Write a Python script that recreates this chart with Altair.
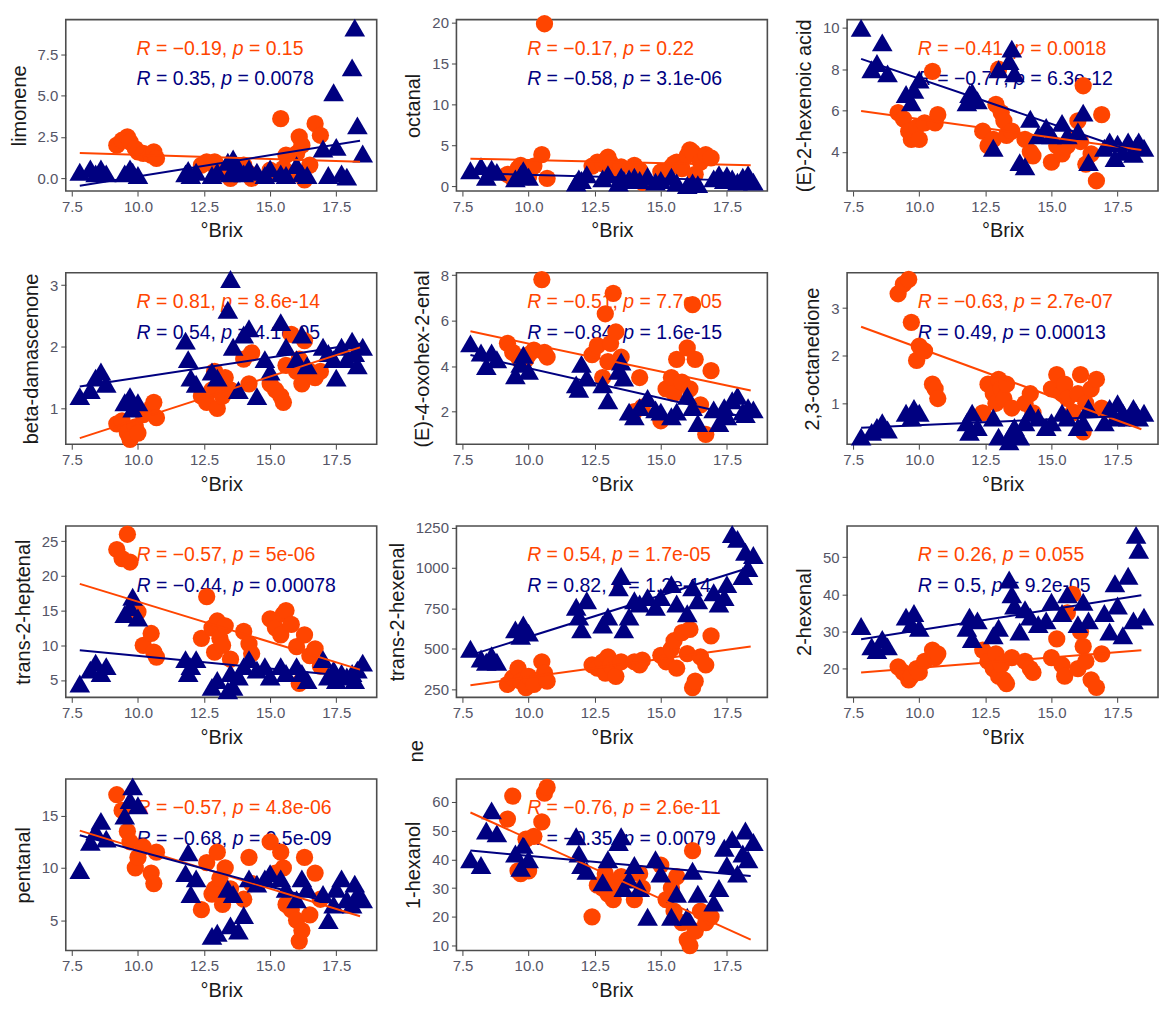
import altair as alt
import pandas as pd

ORANGE = "#FF4500"
NAVY = "#000080"
FONT = "Liberation Sans"

# Brix of the samples (shared by all panels)
brix_orange = [9.2, 9.4, 9.6, 9.7, 9.9, 10.0, 10.2, 10.5, 10.6, 10.7,
               12.4, 12.6, 12.8, 12.9, 13.0, 13.1, 13.2, 13.3, 13.5,
               14.0, 14.2, 14.3,
               15.0, 15.2, 15.4, 15.5, 15.6, 15.8, 16.0, 16.1, 16.2, 16.3, 16.5, 16.7, 16.9]
brix_blue = [7.8, 8.2, 8.4, 8.6, 8.8, 9.5, 9.7, 9.8, 10.0,
             11.8, 11.9, 12.0, 12.2, 12.8, 13.0, 13.4, 13.5, 13.6, 13.8, 14.0, 14.2, 14.5,
             14.8, 15.0, 15.4, 15.6, 16.0, 16.2, 16.4,
             17.0, 17.2, 17.4, 17.5, 17.7, 17.9, 18.1, 18.2, 18.3, 18.5]

limonene_orange = [2.0, 2.3, 2.5, 2.2, 1.8, 1.6, 1.5, 1.4, 1.6, 1.2,
                   0.8, 1.0, 0.9, 1.0, 0.4, 0.6, 0.3, 0.5, 0.0,
                   0.8, 0.3, 0.0,
                   0.5, 0.3, 3.6, 0.6, 1.4, 0.3, 1.5, 2.5, 2.0, -0.1, 0.8, 3.3, 2.6]
limonene_blue = [0.4, 0.6, 0.3, 0.6, 0.3, 0.3, 0.6, 0.4, 0.2,
                 0.3, 0.5, 0.2, 0.4, 0.2, 0.4, 1.0, 0.3, 1.2, 0.5, 0.3, 0.6, 0.4,
                 0.2, 0.6, 0.3, 0.2, 0.8, 0.3, 0.2,
                 1.8, 0.2, 5.2, 1.9, 0.3, 0.1, 6.7, 9.1, 3.2, 1.5]

octanal_orange = [1.5, 1.0, 2.2, 2.6, 2.0, 1.2, 2.5, 3.9, 19.9, 1.0,
                  2.5, 3.0, 2.8, 3.2, 3.6, 2.9, 2.2, 1.5, 2.4,
                  2.6, 2.0, 0.5,
                  1.8, 1.2, 2.4, 2.8, 3.0, 2.2, 3.8, 4.5, 4.2, 1.5, 3.0, 3.9, 3.5]
octanal_blue = [2.0, 2.5, 1.2, 2.2, 1.8, 1.0, 1.5, 2.0, 1.2,
                0.5, 1.0, 0.8, 1.5, 1.0, 1.5, 0.5, 1.2, 0.8, 1.0, 1.2, 0.8, 1.3,
                0.6, 0.8, 1.2, 0.5, 0.2, 0.5, 0.3,
                1.0, 1.5, 0.8, 1.4, 1.0, 0.6, 1.2, 0.8, 1.5, 0.6]

hexenoic_orange = [5.9, 5.6, 5.0, 4.6, 5.2, 4.6, 5.4, 7.9, 5.4, 5.8,
                   5.0, 4.3, 4.6, 6.3, 8.0, 5.9, 5.5, 4.8, 5.0,
                   4.6, 4.0, 3.8,
                   3.5, 4.3, 3.9, 4.2, 4.3, 4.6, 5.5, 4.5, 7.2, 3.4, 3.9, 2.6, 5.8]
hexenoic_blue = [10.0, 8.0, 8.3, 9.3, 7.8, 6.8, 6.4, 7.0, 7.5,
                 6.4, 6.8, 6.9, 6.5, 4.2, 8.0, 8.4, 9.0, 7.8, 3.5, 3.3, 5.6, 4.8,
                 5.2, 4.8, 5.4, 4.8, 5.0, 5.9, 3.5,
                 4.2, 4.5, 3.7, 4.4, 4.0, 4.5, 3.9, 4.3, 4.5, 4.2]

damascenone_orange = [0.75, 0.8, 0.6, 0.5, 0.7, 0.6, 0.9, 1.0, 1.1, 0.85,
                      1.2, 1.1, 1.3, 1.6, 1.0, 1.4, 1.2, 1.5, 1.3,
                      1.8, 1.4, 1.9,
                      1.4, 1.3, 1.2, 1.1, 1.7, 2.2, 1.6, 1.8, 1.4, 2.1, 1.6, 1.5, 1.6]
damascenone_blue = [1.2, 1.3, 1.5, 1.6, 1.4, 1.1, 1.2, 1.0, 1.1,
                    2.1, 1.8, 1.5, 1.4, 1.6, 1.5, 2.6, 3.1, 2.0, 1.3, 2.2, 2.3, 1.2,
                    1.8, 1.6, 2.4, 2.0, 1.8, 2.2, 1.7,
                    2.0, 1.9, 1.8, 1.5, 2.0, 1.8, 2.1, 1.9, 1.7, 2.0]

oxohexenal_orange = [5.0, 4.6, 4.4, 4.2, 4.3, 4.5, 4.7, 7.8, 4.6, 4.4,
                     4.5, 4.9, 3.5, 6.3, 4.2, 5.0, 7.2, 5.5, 4.4,
                     2.0, 3.5, 2.2,
                     1.6, 3.0, 3.5, 2.8, 4.3, 3.3, 4.8, 3.0, 6.7, 4.3, 2.3, 1.0, 3.8]
oxohexenal_blue = [5.0, 4.6, 4.0, 4.6, 4.3, 3.6, 4.1, 4.5, 3.8,
                   3.2, 3.0, 4.1, 3.5, 3.2, 2.5, 3.8, 4.2, 3.5, 2.0, 1.8, 2.2, 2.6,
                   2.1, 2.0, 1.8, 2.0, 2.7, 2.2, 1.5,
                   2.1, 1.5, 2.2, 1.8, 2.5, 2.7, 2.0, 1.9, 2.2, 2.1]

octanedione_orange = [3.3, 3.5, 3.6, 2.7, 1.9, 2.2, 2.1, 1.4, 1.3, 1.1,
                      0.8, 1.4, 1.2, 1.0, 1.5, 1.3, 1.1, 1.4, 0.9,
                      1.0, 1.2, 0.8,
                      1.3, 1.6, 1.2, 1.4, 1.1, 0.8, 1.2, 1.6, 0.4, 1.0, 1.3, 1.5, 0.9]
octanedione_blue = [0.3, 0.4, 0.5, 0.6, 0.45, 0.8, 0.7, 0.9, 0.8,
                    0.6, 0.4, 0.8, 0.5, 0.7, 0.3, 0.2, 0.4, 0.5, 0.3, 0.6, 0.8, 0.7,
                    0.5, 0.6, 0.8, 0.7, 0.5, 0.6, 0.9,
                    0.6, 0.9, 0.7, 1.0, 0.8, 0.7, 0.9, 0.8, 0.7, 0.8]

heptenal_orange = [23.8, 22.5, 26.0, 22.0, 14.5, 14.8, 10.0, 11.7, 9.0, 8.3,
                   11.0, 17.0, 12.5, 9.0, 13.5, 11.0, 10.0, 12.8, 8.0,
                   12.0, 10.2, 8.8,
                   13.8, 12.5, 11.5, 14.5, 15.0, 13.0, 9.8, 4.5, 5.0, 11.5, 8.5, 9.5, 7.0]
heptenal_blue = [4.5, 6.5, 7.5, 6.0, 7.0, 14.5, 15.5, 17.0, 14.0,
                 8.0, 6.0, 7.0, 8.0, 4.0, 5.0, 3.5, 6.0, 4.0, 5.5, 7.0, 8.0, 6.5,
                 7.0, 5.5, 7.0, 6.0, 7.0, 6.0, 5.0,
                 8.0, 5.5, 6.5, 5.0, 6.0, 5.5, 6.0, 5.0, 6.5, 7.5]

t2hexenal_orange = [280, 320, 380, 300, 260, 330, 280, 420, 350, 300,
                    400, 380, 420, 350, 450, 400, 370, 330, 420,
                    420, 400, 430,
                    460, 420, 500, 550, 380, 600, 470, 620, 260, 300, 450, 400, 580]
t2hexenal_blue = [500, 440, 420, 460, 420, 620, 580, 650, 600,
                  760, 700, 620, 800, 650, 700, 880, 950, 620, 700, 800, 780, 820,
                  760, 820, 900, 780, 720, 880, 800,
                  850, 780, 820, 900, 1210, 1180, 950, 1100, 1000, 1080]

hexenal2_orange = [20.5, 19, 17, 18, 20, 19, 22, 25, 23, 24,
                   25, 22, 20, 24, 18, 21, 17, 16, 23,
                   22, 20, 19,
                   23, 28, 21, 18, 35, 40, 20, 30, 26, 22, 17, 15, 24]
hexenal2_blue = [31.5, 26, 25, 28, 26, 34, 32, 35, 31,
                 31, 34, 28, 33, 29, 31, 44, 40, 37, 30, 36, 34, 32,
                 33, 38, 35, 40, 32, 38, 33,
                 35, 30, 43, 37, 29, 45, 33, 56, 52, 34]

pentanal_orange = [17.0, 15.5, 13.5, 12.5, 10.0, 11.0, 12.0, 9.5, 8.5, 11.5,
                   6.0, 10.5, 7.5, 8.0, 11.5, 9.0, 6.5, 10.0, 8.0,
                   7.0, 11.0, 8.5,
                   12.5, 9.5, 11.5, 10.0, 6.5, 6.0, 5.0, 3.0, 4.0, 11.0, 5.5, 9.5, 7.0]
pentanal_blue = [9.8, 12.5, 13.5, 14.5, 12.8, 15.0, 16.5, 17.8, 16.0,
                 9.5, 11.5, 7.5, 9.0, 3.5, 3.8, 8.0, 4.5, 7.5, 4.0, 5.5, 9.0, 8.5,
                 9.0, 9.5, 9.0, 8.0, 7.0, 9.0, 8.0,
                 7.5, 5.0, 6.5, 8.0, 9.0, 7.0, 6.5, 8.5, 7.5, 7.0]

hexanol_orange = [54, 62, 36, 35, 47, 36, 48, 53, 63, 65,
                  20, 31, 30, 35, 28, 32, 26, 30, 34,
                  26, 35, 30,
                  38, 26, 30, 22, 34, 18, 12, 10, 43, 15, 22, 18, 20]
hexanol_blue = [40, 38, 50, 57, 49, 42, 37, 45, 40,
                48, 42, 38, 36, 32, 40, 46, 48, 30, 33, 38, 30, 20,
                40, 35, 20, 28, 20, 36, 28,
                25, 30, 44, 38, 47, 35, 42, 50, 40, 46]

panel_titles = ["limonene", "octanal", "(E)-2-hexenoic acid",
                "beta-damascenone", "(E)-4-oxohex-2-enal", "2,3-octanedione",
                "trans-2-heptenal", "trans-2-hexenal", "2-hexenal",
                "pentanal", "1-hexanol"]
orange_series = [limonene_orange, octanal_orange, hexenoic_orange,
                 damascenone_orange, oxohexenal_orange, octanedione_orange,
                 heptenal_orange, t2hexenal_orange, hexenal2_orange,
                 pentanal_orange, hexanol_orange]
blue_series = [limonene_blue, octanal_blue, hexenoic_blue,
               damascenone_blue, oxohexenal_blue, octanedione_blue,
               heptenal_blue, t2hexenal_blue, hexenal2_blue,
               pentanal_blue, hexanol_blue]
y_domains = [[-0.77, 9.58], [-0.55, 20.4], [2.1, 10.4],
             [0.42, 3.2], [0.57, 8.1], [0.14, 3.74],
             [2.5, 27.2], [200, 1260], [12.3, 58.4],
             [2.1, 18.5], [8.3, 67.9]]
y_ticks = [[0, 2.5, 5, 7.5], [0, 5, 10, 15, 20], [4, 6, 8, 10],
           [1, 2, 3], [2, 4, 6, 8], [1, 2, 3],
           [5, 10, 15, 20, 25], [250, 500, 750, 1000, 1250], [20, 30, 40, 50],
           [5, 10, 15], [10, 20, 30, 40, 50, 60]]
y_formats = [".1f", "d", "d", "d", "d", "d", "d", "d", "d", "d", "d"]
labels_orange = ["R = −0.19, p = 0.15", "R = −0.17, p = 0.22", "R = −0.41, p = 0.0018",
                 "R = 0.81, p = 8.6e-14", "R = −0.51, p = 7.7e-05", "R = −0.63, p = 2.7e-07",
                 "R = −0.57, p = 5e-06", "R = 0.54, p = 1.7e-05", "R = 0.26, p = 0.055",
                 "R = −0.57, p = 4.8e-06", "R = −0.76, p = 2.6e-11"]
labels_blue = ["R = 0.35, p = 0.0078", "R = −0.58, p = 3.1e-06", "R = −0.77, p = 6.3e-12",
               "R = 0.54, p = 4.1e-05", "R = −0.84, p = 1.6e-15", "R = 0.49, p = 0.00013",
               "R = −0.44, p = 0.00078", "R = 0.82, p = 1.2e-14", "R = 0.5, p = 9.2e-05",
               "R = −0.68, p = 9.5e-09", "R = −0.35, p = 0.0079"]
stray_text = "ne"

W, H = 312, 172
FS = 19.5
CHAR_W = {" ": 278, "=": 584, "−": 584, ".": 278, ",": 278, "e": 556, "-": 333,
          "R": 722, "p": 556}


def tw(s):
    return sum(CHAR_W.get(c, 556) for c in s) * FS / 1000.0


def label_layers(label, color, ypix, x0=71):
    # label "R = a, p = b" : R and p italic
    rest = label[len("R = "):]
    rval, pval = rest.split(", p = ")
    pieces = [("R", True, 0.0),
              ("= " + rval + ",", False, tw("R ")),
              ("p", True, tw("R = " + rval + ", ")),
              ("= " + pval, False, tw("R = " + rval + ", p "))]
    out = []
    for txt, ital, off in pieces:
        out.append(
            alt.Chart(pd.DataFrame({"t": [txt]}))
            .mark_text(align="left", baseline="middle", font=FONT, fontSize=FS,
                       fontStyle="italic" if ital else "normal", color=color)
            .encode(text="t:N", x=alt.value(x0 + off), y=alt.value(ypix))
        )
    return out


def panel(i):
    yo = orange_series[i]
    yb = blue_series[i]
    df = pd.DataFrame({
        "brix": brix_orange + brix_blue,
        "value": yo + yb,
        "group": ["orange"] * len(yo) + ["blue"] * len(yb),
    })
    x = alt.X("brix:Q", title="°Brix",
              scale=alt.Scale(domain=[7.27, 19.03], nice=False, zero=False),
              axis=alt.Axis(values=[7.5, 10, 12.5, 15, 17.5], format=".1f"))
    y = alt.Y("value:Q", title=panel_titles[i],
              scale=alt.Scale(domain=y_domains[i], nice=False, zero=False),
              axis=alt.Axis(values=y_ticks[i], format=y_formats[i]))
    color = alt.Color("group:N", legend=None,
                      scale=alt.Scale(domain=["orange", "blue"], range=[ORANGE, NAVY]))
    shape = alt.Shape("group:N", legend=None,
                      scale=alt.Scale(domain=["orange", "blue"], range=["circle", "triangle-up"]))
    size = alt.Size("group:N", legend=None,
                    scale=alt.Scale(domain=["orange", "blue"], range=[300, 430]))
    base = alt.Chart(df)
    pts = base.mark_point(filled=True, opacity=1, strokeWidth=0).encode(
        x=x, y=y, color=color, shape=shape, size=size, order=alt.Order("group:N", sort="descending"))
    lines = base.transform_regression(
        "brix", "value", groupby=["group"], extent=[7.8, 18.4]
    ).mark_line(strokeWidth=2, clip=True).encode(x=x, y=y, color=color)
    layers = label_layers(labels_orange[i], ORANGE, 29) + label_layers(labels_blue[i], NAVY, 60)
    layers += [pts, lines]
    if i == 7:
        layers.append(
            alt.Chart(pd.DataFrame({"t": [stray_text]}))
            .mark_text(angle=270, align="center", baseline="middle", font=FONT,
                       fontSize=20, color="#1a1a1a")
            .encode(text="t:N", x=alt.value(-40), y=alt.value(226))
        )
    return alt.layer(*layers).properties(width=W, height=H)


charts = [panel(i) for i in range(11)]
chart = alt.concat(
    *charts, columns=3, spacing={"row": 82, "column": 80}, bounds="flush"
).properties(
    padding={"left": 8, "top": 12, "right": 5, "bottom": 5}
).configure_view(
    stroke="#4d4d4d", strokeWidth=1.6
).configure_axis(
    labelFont=FONT, labelFontSize=15, labelColor="#555566",
    titleFont=FONT, titleFontSize=20, titleFontWeight="normal", titleColor="#1a1a1a",
    tickColor="#444444", tickSize=5, domain=False, grid=False, labelPadding=3,
).configure_axisX(titlePadding=7).configure_axisY(titlePadding=8)

chart.save("out.html", embed_options={"renderer": "svg", "actions": False})
